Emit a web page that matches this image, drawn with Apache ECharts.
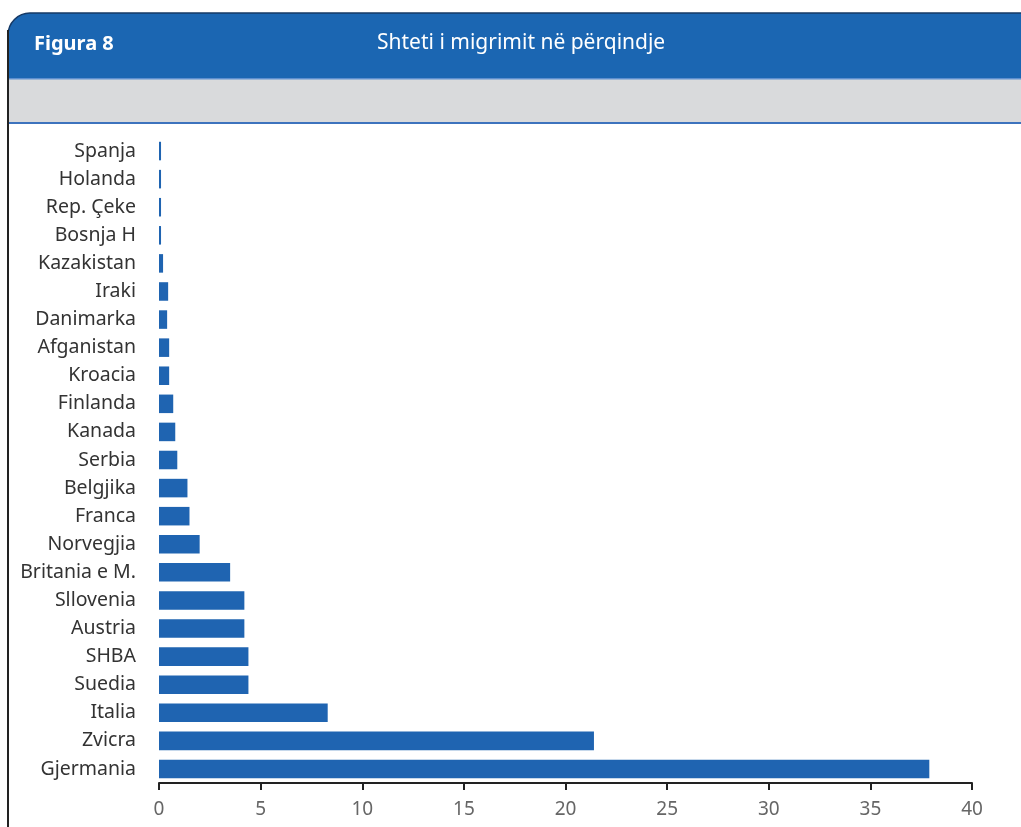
<!DOCTYPE html>
<html><head><meta charset="utf-8">
<script src="https://cdn.jsdelivr.net/npm/echarts@6/dist/echarts.min.js"></script>
<style>html,body{margin:0;padding:0;background:#fff}#c{width:1021px;height:827px}</style>
</head><body><div id="c"></div>
<script>
const categories = ["Spanja","Holanda","Rep. Çeke","Bosnja H","Kazakistan","Iraki","Danimarka","Afganistan","Kroacia","Finlanda","Kanada","Serbia","Belgjika","Franca","Norvegjia","Britania e M.","Sllovenia","Austria","SHBA","Suedia","Italia","Zvicra","Gjermania"];
const values = [0.1,0.1,0.1,0.1,0.2,0.45,0.4,0.5,0.5,0.7,0.8,0.9,1.4,1.5,2.0,3.5,4.2,4.2,4.4,4.4,8.3,21.4,37.9];
const xTicks = [0,5,10,15,20,25,30,35,40];
const figureLabel = "Figura 8";
const titleText = "Shteti i migrimit në përqindje";

const chart = echarts.init(document.getElementById('c'));
chart.setOption({
  animation:false,
  textStyle:{fontFamily:'Noto Sans'},
  graphic:[
    {type:'rect',shape:{x:8,y:13,width:1030,height:66,r:[22,0,0,0]},style:{fill:'#1b66b2',stroke:'#163a66',lineWidth:1.5},z:0},
    {type:'rect',shape:{x:9,y:79,width:1030,height:43},style:{fill:'#d9dadc'},z:1},
    {type:'rect',shape:{x:9,y:78,width:1030,height:1.5},style:{fill:'#5d8fcf'},z:2},
    {type:'rect',shape:{x:9,y:122,width:1030,height:2},style:{fill:'#3d73bd'},z:2},
    {type:'line',shape:{x1:8,y1:30,x2:8,y2:827},style:{stroke:'#222',lineWidth:2},z:2},
    {type:'text',left:34,top:34,style:{text:figureLabel,fill:'#fff',font:'bold 20px "Noto Sans"'},z:3},
    {type:'text',left:377,top:33,style:{text:titleText,fill:'#fff',font:'21px "Noto Sans"'},z:3}
  ],
  grid:{left:159,right:49,top:137,bottom:44,containLabel:false},
  xAxis:{type:'value',min:0,max:40,interval:5,
    axisLine:{show:true,lineStyle:{color:'#222',width:2}},
    axisTick:{show:true,length:7,lineStyle:{color:'#222',width:2}},
    splitLine:{show:false},
    axisLabel:{color:'#666',fontSize:19,margin:17,formatter:v=>xTicks.includes(v)?String(v):''}},
  yAxis:{type:'category',data:categories,inverse:true,
    axisLine:{show:false},axisTick:{show:false},
    axisLabel:{color:'#333',fontSize:19.5,margin:23}},
  series:[{type:'bar',data:values,barWidth:'66%',itemStyle:{color:'#1f64b1'}}]
});
</script></body></html>
